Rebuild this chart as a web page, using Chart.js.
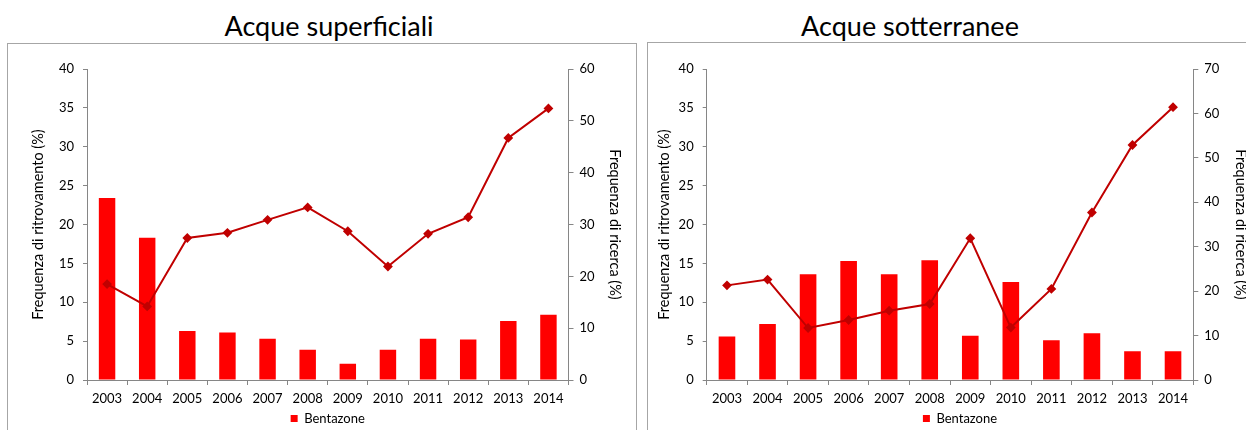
<!DOCTYPE html>
<html>
<head>
<meta charset="utf-8">
<script src="https://cdn.jsdelivr.net/npm/chart.js@4.4.1/dist/chart.umd.min.js"></script>
<style>
  body { margin: 0; width: 1246px; height: 430px; overflow: hidden; background: #fff; position: relative; font-family: Lato, sans-serif; }
  .title { position: absolute; top: 10px; font-size: 27px; line-height: 32px; white-space: nowrap; transform: translateX(-50%); color: #000; }
  .panel { position: absolute; top: 0; width: 640px; height: 435px; }
</style>
</head>
<body>
<div class="title" style="left:329px">Acque superficiali</div>
<div class="title" style="left:910px">Acque sotterranee</div>
<div class="panel" style="left:0"><canvas id="chartSup" width="640" height="435"></canvas></div>
<div class="panel" style="left:640px"><canvas id="chartSot" width="640" height="435"></canvas></div>
<script>
const years = ['2003', '2004', '2005', '2006', '2007', '2008', '2009', '2010', '2011', '2012', '2013', '2014'];

// Acque superficiali
const supRitrovamento = [23.4, 18.3, 6.3, 6.1, 5.3, 3.9, 2.1, 3.9, 5.3, 5.2, 7.6, 8.4];
const supRicerca = [18.5, 14.2, 27.4, 28.4, 30.9, 33.3, 28.7, 21.9, 28.2, 31.4, 46.7, 52.4];

// Acque sotterranee
const sotRitrovamento = [5.6, 7.2, 13.6, 15.3, 13.6, 15.4, 5.7, 12.6, 5.1, 6.0, 3.7, 3.7];
const sotRicerca = [21.3, 22.6, 11.7, 13.5, 15.6, 17.1, 31.9, 11.8, 20.5, 37.7, 52.9, 61.4];

const leftTitle = 'Frequenza di ritrovamento (%)';
const rightTitle = 'Frequenza di ricerca (%)';
const seriesName = 'Bentazone';

const axisGray = '#868686';
const tickFont = { family: 'Lato', size: 13 };
const axisTitleFont = { family: 'Lato', size: 14.5 };

const panelBorder = {
    id: 'panelBorder',
    beforeDraw(chart, args, opts) {
        const ctx = chart.ctx;
        ctx.save();
        ctx.strokeStyle = '#a6a6a6';
        ctx.lineWidth = 1;
        ctx.strokeRect(opts.x, opts.y, opts.w, opts.h);
        ctx.restore();
    }
};

function makeChart(id, bars, line, rightMax, g) {
    const ctx = document.getElementById(id).getContext('2d');
    return new Chart(ctx, {
        data: {
            labels: years,
            datasets: [
                {
                    type: 'line',
                    label: rightTitle,
                    data: line,
                    yAxisID: 'y1',
                    borderColor: '#c00000',
                    backgroundColor: '#c00000',
                    borderWidth: 2,
                    pointStyle: 'rectRot',
                    pointRadius: 3.5,
                    pointBackgroundColor: '#c00000',
                    pointBorderColor: '#c00000',
                    tension: 0,
                    order: 0
                },
                {
                    type: 'bar',
                    label: seriesName,
                    data: bars,
                    yAxisID: 'y',
                    backgroundColor: '#ff0000',
                    barPercentage: 0.41,
                    categoryPercentage: 1,
                    order: 1
                }
            ]
        },
        options: {
            responsive: false,
            animation: false,
            devicePixelRatio: 1,
            layout: { padding: { top: 69, left: 0, right: 0, bottom: 0 } },
            plugins: {
                legend: {
                    position: 'bottom',
                    fullSize: g.legendFull,
                    labels: {
                        boxWidth: 7,
                        boxHeight: 7,
                        padding: 4,
                        color: '#000',
                        font: { family: 'Lato', size: 13 },
                        filter: item => item.text === seriesName
                    }
                },
                tooltip: { enabled: false },
                panelBorder: g.border
            },
            scales: {
                x: {
                    grid: { drawOnChartArea: false, drawTicks: true, tickLength: 5, color: axisGray, offset: true },
                    border: { color: axisGray },
                    ticks: { color: '#000', font: tickFont, padding: 6, maxRotation: 0, autoSkip: false },
                    afterFit: s => { s.height = g.xHeight; }
                },
                y: {
                    position: 'left',
                    min: 0,
                    max: 40,
                    ticks: { stepSize: 5, color: '#000', font: tickFont, padding: 9 },
                    grid: { drawOnChartArea: false, tickLength: 4, color: axisGray },
                    border: { color: axisGray },
                    title: { display: true, text: leftTitle, color: '#000', font: axisTitleFont, padding: { top: g.leftTitlePad, bottom: 0 } },
                    afterFit: s => { s.width = g.leftW; }
                },
                y1: {
                    position: 'right',
                    min: 0,
                    max: rightMax,
                    ticks: { stepSize: 10, color: '#000', font: tickFont, padding: 6 },
                    grid: { drawOnChartArea: false, tickLength: 5, color: axisGray },
                    border: { color: axisGray },
                    title: { display: true, text: rightTitle, color: '#000', font: axisTitleFont, padding: { top: g.rightTitlePad, bottom: 0 } },
                    afterFit: s => { s.width = g.rightW; }
                }
            }
        },
        plugins: [panelBorder]
    });
}

makeChart('chartSup', supRitrovamento, supRicerca, 60, {
    leftW: 87, rightW: 71.5, leftTitlePad: 30, rightTitlePad: 17, xHeight: 28, legendFull: false,
    border: { x: 7.5, y: 43.5, w: 629, h: 500 }
});

makeChart('chartSot', sotRitrovamento, sotRicerca, 70, {
    leftW: 66.7, rightW: 86.7, leftTitlePad: 16, rightTitlePad: 31, xHeight: 28, legendFull: true,
    border: { x: 7.5, y: 42.5, w: 700, h: 500 }
});
</script>
</body>
</html>
